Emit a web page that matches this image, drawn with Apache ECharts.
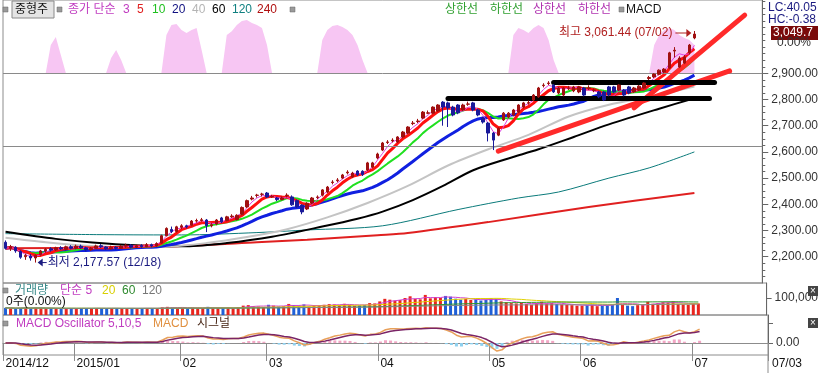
<!DOCTYPE html>
<html><head><meta charset="utf-8">
<script src="https://cdn.jsdelivr.net/npm/echarts@6/dist/echarts.min.js"></script>
<style>html,body{margin:0;padding:0;background:#fff}#c{width:821px;height:373px}</style>
</head><body><div id="c"></div>
<script>
// ---- trading days ----
const dec14 = ['10','11','12','15','16','17','18','19','22','23','24','26','29','30'];
const jan15 = ['02','05','06','07','08','09','12','13','14','15','16','19','20','21','22','23','26','27','28','29','30'];
const feb15 = ['02','03','04','05','06','09','10','11','12','13','16','17','23','24','25','26','27'];
const mar15 = ['02','03','04','05','06','09','10','11','12','13','16','17','18','19','20','23','24','25','26','27','30','31'];
const apr15 = ['01','02','03','06','07','08','09','10','13','14','15','16','17','20','21','22','23','24','27','28','29','30'];
const may15 = ['04','06','07','08','11','12','13','14','15','18','19','20','21','22','26','27','28','29'];
const jun15 = ['01','02','03','04','05','08','09','10','11','12','15','16','17','18','19','22','23','24','25','26','29','30'];
const jul15 = ['01','02'];
const futureJul = ['03','06','07','08','09','10','13','14','15','16','17','20','21'];

// ---- prices ----
const openP = [2255,2232,2236,2220,2200,2203,2195,2208,2222,2230,2226,2234,2228,2238,
2232,2240,2234,2226,2232,2242,2237,2230,2236,2232,2240,2244,2236,2243,2238,2246,2241,2252,2280,2304,2296,
2312,2318,2320,2336,2338,2340,2318,2325,2348,2338,2352,2342,2362,2390,2420,2434,2438,
2443,2428,2424,2418,2433,2428,2414,2397,2382,2405,2426,2435,2447,2483,2490,2500,2520,2504,2527,2526,2531,2542,
2577,2607,2636,2642,2638,2657,2672,2708,2716,2729,2748,2748,2756,2790,2787,2771,2779,2760,2782,2787,2760,2729,
2710,2672,2664,2722,2733,2741,2752,2771,2786,2798,2810,2853,2861,2855,2825,2817,2843,2833,
2829,2844,2843,2835,2829,2829,2848,2848,2836,2836,2848,2829,2836,2844,2880,2886,2896,2905,2920,2985,2924,2939,
2978,3035];
const closeP = [2232,2238,2222,2198,2205,2195,2205,2222,2228,2225,2234,2230,2238,2232,
2240,2234,2226,2232,2241,2238,2230,2236,2232,2240,2244,2236,2242,2238,2246,2241,2250,2280,2308,2296,2314,
2318,2314,2336,2338,2341,2318,2322,2340,2333,2352,2355,2358,2388,2414,2424,2435,2439,
2428,2430,2418,2424,2435,2398,2390,2371,2404,2424,2428,2455,2466,2485,2493,2512,2523,2519,2512,2514,2558,2558,
2592,2634,2638,2645,2657,2676,2695,2710,2718,2752,2749,2771,2779,2771,2768,2741,2749,2779,2783,2760,2741,2714,
2672,2645,2690,2748,2748,2760,2779,2787,2788,2817,2844,2855,2863,2829,2844,2844,2844,2848,
2848,2817,2844,2836,2810,2798,2817,2829,2855,2817,2825,2844,2851,2863,2884,2897,2912,2916,2978,2988,2958,2962,
3008,3049.7];
const lowP = [2228,2222,2215,2192,2188,2185,2177.57,2204,2215,2219,2222,2226,2224,2228,
2228,2230,2220,2222,2230,2233,2226,2226,2227,2230,2234,2232,2233,2234,2236,2236,2238,2250,2278,2290,2292,
2305,2308,2316,2330,2334,2294,2312,2320,2328,2335,2348,2338,2358,2386,2415,2426,2430,
2424,2424,2412,2415,2426,2394,2386,2362,2378,2400,2420,2430,2443,2476,2484,2496,2514,2500,2508,2508,2527,2538,
2572,2603,2630,2636,2634,2652,2668,2702,2710,2725,2744,2744,2752,2700,2695,2736,2744,2756,2776,2755,2736,2708,
2640,2607,2660,2718,2728,2736,2748,2766,2780,2794,2806,2846,2855,2825,2820,2812,2836,2828,
2824,2812,2836,2828,2805,2794,2812,2824,2832,2812,2820,2825,2832,2840,2874,2882,2892,2900,2916,2960,2920,2935,
2972,3030];
const highP = [2262,2245,2240,2224,2212,2210,2209,2226,2233,2236,2238,2240,2242,2244,
2246,2246,2238,2237,2246,2248,2240,2242,2240,2245,2250,2248,2247,2248,2252,2250,2255,2284,2312,2315,2318,
2324,2322,2340,2345,2348,2344,2328,2344,2352,2356,2362,2362,2392,2418,2432,2440,2444,
2447,2436,2428,2430,2442,2434,2418,2400,2408,2428,2434,2458,2470,2492,2500,2516,2530,2524,2530,2530,2562,2562,
2597,2638,2645,2652,2660,2680,2698,2718,2726,2756,2758,2774,2782,2794,2792,2776,2782,2784,2792,2791,2764,2734,
2714,2676,2694,2752,2752,2764,2782,2791,2796,2821,2848,2862,2870,2859,2848,2848,2852,2852,
2852,2848,2854,2842,2833,2833,2852,2852,2858,2840,2852,2848,2855,2866,2890,2900,2915,2920,2982,3000,2965,2970,
3012,3061.44];
const volumeK = [42,40,38,41,44,39,43,40,37,38,36,39,37,38,
38,40,39,37,41,38,39,40,38,37,39,41,38,40,39,38,40,45,48,44,42,
43,40,44,42,41,48,40,42,41,43,40,46,55,58,52,50,47,
60,55,50,52,65,58,55,62,50,53,57,60,64,62,58,66,60,55,57,59,70,68,
80,95,90,85,88,100,110,95,92,118,98,105,100,112,108,96,90,95,88,92,85,90,
100,95,80,75,70,68,72,65,60,70,78,68,70,65,62,60,58,55,
55,58,60,52,55,58,62,100,60,55,52,58,62,78,66,70,75,72,80,65,62,60,
70,68];

// ---- longer moving averages: [dayIndex, value] ----
const ma40Pts = [[0,2272],[8,2255],[16,2242],[24,2237],[32,2238],[40,2252],[48,2275],[56,2305],[64,2350],[72,2405],[80,2470],[88,2548],[96,2610],[104,2665],[112,2735],[120,2780],[128,2810],[137,2850]];
const ma60Pts = [[0,2295],[10,2268],[20,2250],[28,2242],[36,2240],[44,2252],[53,2276],[63,2315],[70,2345],[75,2372],[81,2416],[87,2470],[93,2530],[100,2575],[106,2610],[113,2657],[120,2705],[130,2765],[137,2805]];
const ma120Pts = [[0,2288],[20,2284],[35,2283],[50,2292],[60,2302],[75,2318],[90,2380],[102,2424],[110,2447],[120,2500],[128,2539],[137,2600]];
const ma240Pts = [[0,2232],[20,2235],[34,2240],[50,2255],[60,2265],[74,2282],[80,2290],[96,2332],[116,2390],[137,2443]];

// ---- overlay indicator (pink) segments: [startIndex, values] ----
const overlaySegs = [
 [8,[74.2,84.1,86.9,80.6,74.2]],
 [20,[74.2,79.5,82.3,78.8,74.2]],
 [31,[74.2,87.6,91.2,91.5,89.4,88.3,89.4,90.1,82.3,74.2]],
 [43,[74.2,87.6,89.0,91.2,92.6,92.9,91.9,91.2,90.1,84.1,74.2]],
 [62,[74.2,85.9,89.4,90.8,91.2,90.5,89.4,87.6,84.1,78.8,74.2]],
 [100,[74.2,87.6,90.1,89.4,88.3,90.1,91.2,90.1,85.9,78.8,74.2]],
 [128,[74.2,84.1,87.6,89.4,90.1,89.4,87.6,86.6,85.9,84.1]]
];
const upperLimit = 74.2, lowerLimit = 48.4;

// ---- drawn trend lines: [[idx, price],[idx, price]] ----
const redTrend = [[[98.0,2603],[144.0,2909]],[[125.2,2768],[146.9,3122]]];
const blackTrend = [[[87.7,2806],[140.2,2806]],[[108.5,2865],[140.6,2865]]];

const priceLabels = [2200,2300,2400,2500,2600,2700,2800,2900];

// ---- build ----
const dates = [].concat(
  dec14.map(d=>'2014/12/'+d), jan15.map(d=>'2015/01/'+d), feb15.map(d=>'2015/02/'+d),
  mar15.map(d=>'2015/03/'+d), apr15.map(d=>'2015/04/'+d), may15.map(d=>'2015/05/'+d),
  jun15.map(d=>'2015/06/'+d), jul15.map(d=>'2015/07/'+d));
const cats = dates.concat(futureJul.map(d=>'2015/07/'+d));
const n = dates.length;
const candles = dates.map((_,i)=>[openP[i],closeP[i],lowP[i],highP[i]]);
const volume = volumeK.map(v=>v*1000);
function sma(a,p){return a.map((_,i)=>{const s=Math.max(0,i-p+1);let t=0;for(let k=s;k<=i;k++)t+=a[k];return +(t/(i-s+1)).toFixed(2);});}
function ema(a,p){const al=2/(p+1);let e=a[0];return a.map(v=>{e=al*v+(1-al)*e;return e;});}
const e5=ema(closeP,5), e10=ema(closeP,10);
const macd=e5.map((v,i)=>+(v-e10[i]).toFixed(2));
const sig=ema(macd,5).map(v=>+v.toFixed(2));
const osc=macd.map((v,i)=>+(v-sig[i]).toFixed(2));
const overlay = new Array(n).fill(null);
overlaySegs.forEach(([s,vals])=>vals.forEach((v,k)=>{overlay[s+k]=v;}));

const FONT='"Liberation Sans","Noto Sans CJK KR",sans-serif';
function isMonthStart(i){ if(i===0) return true; return cats[i].slice(0,7)!==cats[i-1].slice(0,7);}
function monthLabel(v,i){ if(i===0) return v.slice(0,7); const m=v.slice(5,7); return m==='01'? v.slice(0,7) : m; }

const minorTicks=[]; for(let v=2125; v<=3175; v+=25) minorTicks.push(v);
const pMin=2099.6, pMax=3179.8;

const chart = echarts.init(document.getElementById('c'));
const line=(name,data,color,width,extra)=>Object.assign({name,type:'line',data,xAxisIndex:0,yAxisIndex:0,symbol:'none',lineStyle:{color,width},z:3,silent:true},extra||{});

const option = {
  animation:false,
  grid:[
    {left:3,right:53,top:0,height:283,show:true,borderColor:'#8c8c8c',borderWidth:1},
    {left:3,right:53,top:283,height:32,show:true,borderColor:'#8c8c8c',borderWidth:1},
    {left:3,right:53,top:315,height:40,show:true,borderColor:'#8c8c8c',borderWidth:1}
  ],
  xAxis:[
    {type:'category',gridIndex:0,data:cats,boundaryGap:true,show:false},
    {type:'category',gridIndex:1,data:cats,boundaryGap:true,show:false},
    {type:'category',gridIndex:2,data:cats,boundaryGap:true,
     axisLine:{show:true,lineStyle:{color:'#8c8c8c'}},
     axisTick:{show:true,length:18,interval:(i)=>isMonthStart(i),lineStyle:{color:'#8c8c8c'}},
     axisLabel:{interval:(i)=>isMonthStart(i),formatter:monthLabel,align:'left',margin:3,color:'#111',fontSize:12,fontFamily:FONT}}
  ],
  yAxis:[
    {type:'value',gridIndex:0,position:'right',min:pMin,max:pMax,splitLine:{show:false},
     axisLine:{show:true,lineStyle:{color:'#666'}},
     axisTick:{show:true,length:3,customValues:minorTicks,lineStyle:{color:'#666'}},
     axisLabel:{customValues:priceLabels,margin:9,color:'#333',fontSize:12,fontFamily:FONT,
       formatter:v=>v.toLocaleString('en-US',{minimumFractionDigits:2,maximumFractionDigits:2})}},
    {type:'value',gridIndex:0,position:'right',min:pMin,max:pMax,splitLine:{show:false},
     axisLine:{show:false},axisTick:{show:true,length:6,customValues:priceLabels,lineStyle:{color:'#666'}},axisLabel:{show:false}},
    {type:'value',gridIndex:0,min:0,max:100,show:false},
    {type:'value',gridIndex:1,position:'right',min:0,max:188000,splitLine:{show:false},
     axisLine:{show:true,lineStyle:{color:'#666'}},
     axisTick:{show:true,length:5,customValues:[100000],lineStyle:{color:'#666'}},
     axisLabel:{customValues:[100000],margin:8,color:'#333',fontSize:12,fontFamily:FONT,formatter:v=>v.toLocaleString('en-US')}},
    {type:'value',gridIndex:2,position:'right',min:-31.2,max:72.8,splitLine:{show:false},
     axisLine:{show:true,lineStyle:{color:'#666'}},
     axisTick:{show:true,length:5,customValues:[0,52],lineStyle:{color:'#666'}},
     axisLabel:{customValues:[0],margin:8,color:'#333',fontSize:12,fontFamily:FONT,formatter:v=>v.toFixed(2)}}
  ],
  series:[
    {name:'overlay',type:'line',xAxisIndex:0,yAxisIndex:2,data:overlay,symbol:'none',connectNulls:false,
     lineStyle:{width:0,color:'#f7c6f3'},areaStyle:{color:'#f7c6f3',opacity:1,origin:upperLimit},z:1,silent:true,
     markLine:{silent:true,symbol:'none',label:{show:false},lineStyle:{color:'#8a8a8a',width:1,type:'solid'},
       data:[{yAxis:upperLimit},{yAxis:lowerLimit}]}},
    line('MA240',ma240Pts,'#e02020',2,{smooth:0.3}),
    line('MA120',ma120Pts,'#0a7a7a',1,{smooth:0.3}),
    line('MA60',ma60Pts,'#000000',2,{smooth:0.3}),
    line('MA40',ma40Pts,'#c4c4c4',2,{smooth:0.3}),
    line('MA20',sma(closeP,20),'#1020e0',3),
    line('MA10',sma(closeP,10),'#20e020',2),
    line('MA5',sma(closeP,5),'#ff1010',3),
    line('MA3',sma(closeP,3),'#e040e0',1),
    {name:'price',type:'candlestick',xAxisIndex:0,yAxisIndex:0,data:candles,barWidth:3,z:5,
     itemStyle:{color:'#a01010',color0:'#1a1a9a',borderColor:'#a01010',borderColor0:'#1a1a9a',borderWidth:1},
     markLine:{silent:true,symbol:'none',label:{show:false},animation:false,
       data:redTrend.map(t=>[{coord:t[0],lineStyle:{color:'#ff2a2a',width:5,type:'solid',cap:'round'}},{coord:t[1]}])
        .concat(blackTrend.map(t=>[{coord:t[0],lineStyle:{color:'#000',width:5,type:'solid',cap:'round'}},{coord:t[1]}]))}},
    {name:'volume',type:'bar',xAxisIndex:1,yAxisIndex:3,barWidth:3,silent:true,
     data:volume.map((v,i)=>({value:v,itemStyle:{color:closeP[i]>=openP[i]?'#e8261f':'#1f5fd6'}}))},
    {name:'vma5',type:'line',xAxisIndex:1,yAxisIndex:3,data:sma(volume,5),symbol:'none',lineStyle:{color:'#d040d0',width:1},silent:true},
    {name:'vma20',type:'line',xAxisIndex:1,yAxisIndex:3,data:sma(volume,20),symbol:'none',lineStyle:{color:'#e0d000',width:1},silent:true},
    {name:'vma60',type:'line',xAxisIndex:1,yAxisIndex:3,data:sma(volume,60),symbol:'none',lineStyle:{color:'#2e9a2e',width:1},silent:true},
    {name:'vma120',type:'line',xAxisIndex:1,yAxisIndex:3,data:sma(volume,120),symbol:'none',lineStyle:{color:'#888',width:1},silent:true},
    {name:'osc',type:'bar',xAxisIndex:2,yAxisIndex:4,barWidth:3,silent:true,
     data:osc.map(v=>({value:v,itemStyle:{color:v>=0?'#f2a6c4':'#8fd0ee'}}))},
    {name:'macd',type:'line',xAxisIndex:2,yAxisIndex:4,data:macd,symbol:'none',lineStyle:{color:'#e8a05a',width:1.5},silent:true},
    {name:'signal',type:'line',xAxisIndex:2,yAxisIndex:4,data:sig,symbol:'none',lineStyle:{color:'#7a2466',width:1.5},silent:true}
  ]
};
chart.setOption(option);

// ---- annotations placed from data coordinates ----
const toPx=(i,p)=>chart.convertToPixel({xAxisIndex:0,yAxisIndex:0},[i,p]);
const hiIdx=highP.indexOf(Math.max(...highP)), loIdx=lowP.indexOf(Math.min(...lowP));
const hp=toPx(hiIdx,highP[hiIdx]), lp=toPx(loIdx,lowP[loIdx]);
const cp=toPx(n-1,closeP[n-1]);
const T=(text,x,y,fill,extra)=>Object.assign({type:'text',style:{text,x,y,fill,font:'12px '+FONT,verticalAlign:'middle'},z:100},extra||{});
const sq=(x,y)=>({type:'rect',shape:{x,y,width:5,height:5},style:{fill:'#9a9a9a',stroke:'#666',lineWidth:0.5},z:100});
const fmt=v=>v.toLocaleString('en-US',{minimumFractionDigits:2,maximumFractionDigits:2});
const graphics=[
  sq(3,7),
  {type:'rect',shape:{x:12,y:1,width:42,height:17},style:{fill:'#e4e4e4',stroke:'#8a8a8a',lineWidth:1},z:100},
  T('중형주',15,10,'#111'),
  sq(57,7),
  T('종가 단순',68,10,'#c03cc0'), T('3',123,10,'#c03cc0'), T('5',137,10,'#e02020'),
  T('10',152,10,'#20c020'), T('20',172,10,'#101080'), T('40',192,10,'#b4b4b4'),
  T('60',212,10,'#000'), T('120',232,10,'#108080'), T('240',257,10,'#b01010'),
  sq(290,7),
  T('상한선',445,10,'#30a030'), T('하한선',490,10,'#30a030'),
  T('상한선',533,10,'#b030b0'), T('하한선',578,10,'#b030b0'),
  sq(619,7), T('MACD',626,10,'#111'),
  {type:'text',style:{text:'최고 '+fmt(highP[hiIdx])+' (07/02)',x:hp[0]-22,y:hp[1]+2,fill:'#b02020',font:'12px '+FONT,verticalAlign:'middle',align:'right'},z:100},
  {type:'line',shape:{x1:hp[0]-19,y1:hp[1]+2,x2:hp[0]-6,y2:hp[1]+2},style:{stroke:'#b02020',lineWidth:1},z:100},
  {type:'polygon',shape:{points:[[hp[0]-3,hp[1]+2],[hp[0]-8,hp[1]-2],[hp[0]-8,hp[1]+6]]},style:{fill:'#b02020'},z:100},
  {type:'line',shape:{x1:lp[0]+5,y1:lp[1],x2:lp[0]+11,y2:lp[1]},style:{stroke:'#1a1a80',lineWidth:1},z:100},
  {type:'polygon',shape:{points:[[lp[0]+2,lp[1]],[lp[0]+7,lp[1]-4],[lp[0]+7,lp[1]+4]]},style:{fill:'#1a1a80'},z:100},
  T('최저 '+fmt(lowP[loIdx])+' (12/18)',lp[0]+12,lp[1],'#1a1a80'),
  T('LC:40.05',768,8,'#1a1a80'), T('HC:-0.38',768,20,'#1a1a80'),
  {type:'rect',shape:{x:771,y:cp[1]-8,width:47,height:14},style:{fill:'#7a0a0a'},z:100},
  T(closeP[n-1].toLocaleString('en-US',{minimumFractionDigits:1}),773,cp[1]-1,'#fff'),
  T('0.00%',777,43,'#333'),
  sq(3,288), T('거래량',15,291,'#3a8a8a'), T('단순 5',60,291,'#c03cc0'), T('20',102,291,'#d8d000'), T('60',122,291,'#2e8a2e'), T('120',142,291,'#777'),
  T('0주(0.00%)',6,302,'#111'),
  sq(3,321), T('MACD Oscillator 5,10,5',16,324,'#c03cc0'), T('MACD',153,324,'#e09040'), T('시그널',197,324,'#442211'),
  {type:'rect',shape:{x:808,y:286,width:10,height:10},style:{fill:'#444'},z:100},
  {type:'text',style:{text:'×',x:813,y:291,fill:'#fff',font:'10px '+FONT,verticalAlign:'middle',align:'center'},z:100},
  {type:'rect',shape:{x:808,y:318,width:10,height:10},style:{fill:'#444'},z:100},
  {type:'text',style:{text:'×',x:813,y:323,fill:'#fff',font:'10px '+FONT,verticalAlign:'middle',align:'center'},z:100},
  {type:'line',shape:{x1:768,y1:355,x2:768,y2:373},style:{stroke:'#8c8c8c',lineWidth:1},z:100},
  T('07/03',772,364,'#111')
];
chart.setOption({graphic:graphics});
</script></body></html>
